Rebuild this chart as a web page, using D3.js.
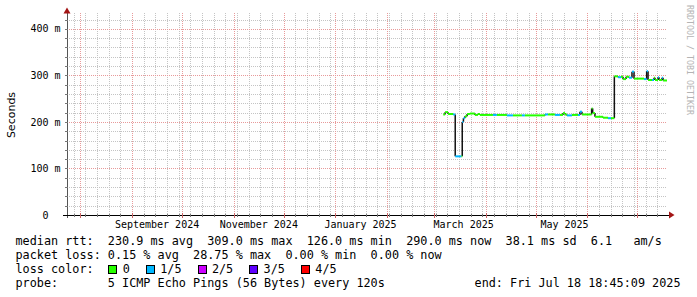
<!DOCTYPE html>
<html><head><meta charset="utf-8">
<script src="https://cdn.jsdelivr.net/npm/d3@7"></script>
<style>
html,body{margin:0;padding:0;background:#fff;}
svg{display:block;}
text{font-family:"DejaVu Sans Mono",monospace;}
</style>
</head><body>
<svg id="chart" width="697" height="297"></svg>
<script>
// ---- data ----
const START = "2024-07-24T00:00:00";
const END = "2025-07-18T18:45:09";
const times = [
 "2025-03-06T14:00","2025-03-07T17:00","2025-03-09T12:00","2025-03-12T14:00","2025-03-13T19:00",
 "2025-03-17T13:00","2025-03-18T00:00","2025-03-18T17:00","2025-03-19T14:00","2025-03-20T22:00",
 "2025-03-22T14:00","2025-03-25T14:00","2025-03-27T10:00","2025-03-28T14:00","2025-04-05T10:00",
 "2025-04-07T19:00","2025-04-13T19:00","2025-04-17T10:00","2025-04-22T19:00","2025-04-24T14:00",
 "2025-05-06T14:00","2025-05-08T10:00","2025-05-12T14:00","2025-05-15T14:00","2025-05-17T10:00",
 "2025-05-18T14:00","2025-05-19T19:00","2025-05-22T19:00","2025-05-26T10:00","2025-05-27T14:00",
 "2025-05-28T19:00","2025-06-03T14:00","2025-06-04T05:00","2025-06-05T14:00","2025-06-10T10:00",
 "2025-06-13T10:00","2025-06-15T05:00","2025-06-17T05:00","2025-06-19T10:00","2025-06-21T05:00",
 "2025-06-22T10:00","2025-06-24T05:00","2025-06-26T00:00","2025-06-27T19:00","2025-06-29T00:00",
 "2025-07-05T00:00","2025-07-06T14:00","2025-07-07T10:00","2025-07-09T19:00","2025-07-11T00:00",
 "2025-07-11T14:00","2025-07-13T10:00","2025-07-14T00:00","2025-07-15T19:00","2025-07-16T10:00"
];
const medianMs = [
 216,221,217,216,126,
 126,200,208,212,217,
 218,215,217,215,215,
 215,214,214,214,214,
 216,216,215,215,219,
 216,214,215,215,222,
 216,229,219,211,209,
 208,208,298,296,297,
 292,297,295,308,293,
 292,309,290,290,295,
 290,296,290,295,289
];
const lossIdx = [
 0,0,0,1,1,
 0,1,1,0,0,
 0,0,0,0,1,
 0,1,0,1,0,
 1,0,1,0,0,
 0,1,0,1,1,
 0,0,0,0,0,
 1,0,0,1,0,
 0,0,1,1,0,
 1,1,0,1,0,
 0,1,0,1,0
];
const lossLabels = ["0","1/5","2/5","3/5","4/5"];
const lossColors = ["#26ff00","#00b8ff","#cc00ff","#5e00ff","#ff0000"];
const yTickValues = [0, 0.1, 0.2, 0.3, 0.4];
const yTickLabels = ["0  ","100 m","200 m","300 m","400 m"];
const monthLabelDates = ["2024-09-16T00:00","2024-11-16T00:00","2025-01-16T00:00","2025-03-18T20:00","2025-05-18T08:00"];
const monthLabelText = ["September 2024","November 2024","January 2025","March 2025","May 2025"];
const statsLine1 = "median rtt:  230.9 ms avg  309.0 ms max  126.0 ms min  290.0 ms now  38.1 ms sd  6.1   am/s";
const statsLine2 = "packet loss: 0.15 % avg  28.75 % max  0.00 % min  0.00 % now";
const lossTitle = "loss color:";
const probeLine = "probe:       5 ICMP Echo Pings (56 Bytes) every 120s";
const endLine = "end: Fri Jul 18 18:45:09 2025";
const yTitle = "Seconds";
const watermark = "RRDTOOL / TOBI OETIKER";

// ---- drawing ----
(function () {
const svg = d3.select("#chart");
const pL = 67, pR = 667, pB = 215, pT = 13;
const x = d3.scaleTime().domain([new Date(START), new Date(END)]).range([pL, pR]);
const y = d3.scaleLinear().domain([0, 0.434]).range([pB, pT]);
const px = v => Math.round(v) + 0.5;

const grid = svg.append("g").attr("shape-rendering","crispEdges");
y.ticks(20).filter(v => v > 0 && Math.abs(v*10 - Math.round(v*10)) > 1e-6).forEach(v => {
  grid.append("line").attr("x1",pL).attr("x2",pR).attr("y1",px(y(v))).attr("y2",px(y(v)))
    .attr("stroke","#c4c4c4").attr("stroke-dasharray","1,1");
});
d3.timeWeek.range(new Date(START), new Date(END)).forEach(d => {
  grid.append("line").attr("x1",px(x(d))).attr("x2",px(x(d))).attr("y1",pT).attr("y2",pB)
    .attr("stroke","#c4c4c4").attr("stroke-dasharray","1,1");
});
d3.timeMonth.range(new Date(START), new Date(END)).forEach(d => {
  grid.append("line").attr("x1",px(x(d))).attr("x2",px(x(d))).attr("y1",pT).attr("y2",pB)
    .attr("stroke","#e89a9a").attr("stroke-dasharray","1,1");
});
yTickValues.filter(v => v > 0).forEach(v => {
  grid.append("line").attr("x1",pL).attr("x2",pR).attr("y1",px(y(v))).attr("y2",px(y(v)))
    .attr("stroke","#e89a9a").attr("stroke-dasharray","1,1");
});

const parsed = times.map(t => new Date(t));
const vg = svg.append("g");
const hg = svg.append("g");
parsed.forEach((t0, i) => {
  const t1 = i < parsed.length - 1 ? parsed[i+1] : new Date(END);
  const v0 = medianMs[i] / 1000;
  hg.append("line").attr("x1",x(t0)).attr("x2",x(t1)).attr("y1",y(v0)).attr("y2",y(v0))
    .attr("stroke",lossColors[lossIdx[i]]).attr("stroke-width",2);
  if (i < parsed.length - 1) {
    const v1 = medianMs[i+1] / 1000;
    vg.append("line").attr("x1",x(t1)).attr("x2",x(t1)).attr("y1",y(v0)).attr("y2",y(v1))
      .attr("stroke","#111").attr("stroke-width",1.5);
  }
});

const ax = svg.append("g").attr("shape-rendering","crispEdges");
ax.append("line").attr("x1",px(pL)).attr("x2",px(pL)).attr("y1",pB+3).attr("y2",10).attr("stroke","#555");
ax.append("line").attr("x1",63).attr("x2",670).attr("y1",px(pB)).attr("y2",px(pB)).attr("stroke","#000");
d3.timeWeek.range(new Date(START), new Date(END)).forEach(d => {
  ax.append("line").attr("x1",px(x(d))).attr("x2",px(x(d))).attr("y1",pB-1).attr("y2",pB+2).attr("stroke","#777");
});
d3.timeMonth.range(new Date(START), new Date(END)).forEach(d => {
  ax.append("line").attr("x1",px(x(d))).attr("x2",px(x(d))).attr("y1",pB-2).attr("y2",pB+3).attr("stroke","#c66");
});
y.ticks(20).filter(v => v > 0).forEach(v => {
  ax.append("line").attr("x1",pL-2).attr("x2",pL+1).attr("y1",px(y(v))).attr("y2",px(y(v))).attr("stroke","#777");
});
svg.append("path").attr("d","M669,211.5L669,218.5L674.5,215Z").attr("fill","#a31515");
svg.append("path").attr("d","M63.5,13.5L70.5,13.5L67,7.5Z").attr("fill","#a31515");

yTickValues.forEach((v, i) => {
  svg.append("text").attr("x",60.5).attr("y",y(v)+3.6).attr("text-anchor","end")
    .attr("xml:space","preserve").style("white-space","pre")
    .attr("font-size","10px").attr("fill","#000").text(yTickLabels[i]);
});
monthLabelDates.forEach((d, i) => {
  svg.append("text").attr("x",x(new Date(d))).attr("y",228).attr("text-anchor","middle")
    .attr("font-size","10px").attr("fill","#000").text(monthLabelText[i]);
});
svg.append("text").attr("transform","translate(15,115) rotate(-90)").attr("text-anchor","middle")
  .style("font-family","'DejaVu Sans',sans-serif").attr("font-size","11px").attr("fill","#000").text(yTitle);
svg.append("text").attr("transform","translate(687,5) rotate(90)").attr("text-anchor","start")
  .attr("font-size","8.3px").attr("fill","#b4b4b4").text(watermark);

const lx = 15.5, fs = "11.8px";
const rows = [244.8, 258.7, 272.6, 286.5];
const addText = (str, xx, yy, anchor) => svg.append("text").attr("x",xx).attr("y",yy)
  .attr("text-anchor",anchor || "start").attr("xml:space","preserve").style("white-space","pre")
  .attr("font-size",fs).attr("fill","#000").text(str);
addText(statsLine1, lx, rows[0]);
addText(statsLine2, lx, rows[1]);
addText(lossTitle, lx, rows[2]);
addText(probeLine, lx, rows[3]);
addText(endLine, 680.5, rows[3], "end");
let bx = 108.3;
const charW = 7.1;
lossLabels.forEach((lab, i) => {
  svg.append("rect").attr("x",Math.round(bx)+0.5).attr("y",265.5).attr("width",8).attr("height",8)
    .attr("fill",lossColors[i]).attr("stroke","#000").attr("stroke-width",1).attr("shape-rendering","crispEdges");
  addText(lab, bx + 14.4, rows[2]);
  bx = bx + 14.4 + lab.length * charW + 16;
});
})();
</script>
</body></html>
